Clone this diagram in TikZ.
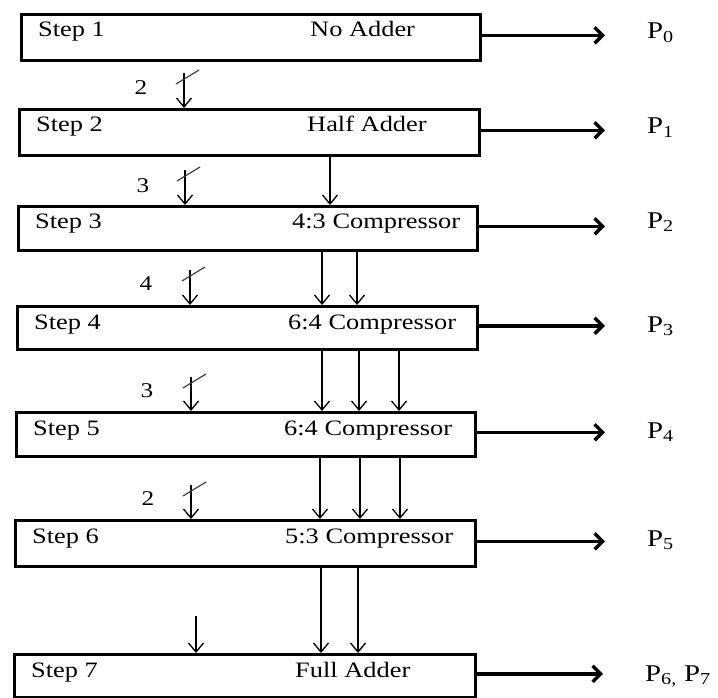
\documentclass[tikz,border=0pt]{standalone}
\usepackage{fontspec}
\setmainfont{Liberation Serif}[FakeStretch=1.2]
\usetikzlibrary{arrows.meta}

\begin{document}
\begin{tikzpicture}[x=1pt,y=-1pt,
  stagebox/.style={draw, line width=2.6pt, inner sep=0pt, anchor=north west},
  steptext/.style={anchor=base west, inner sep=0pt, font=\fontsize{22}{26}\selectfont},
  unittext/.style={anchor=base west, inner sep=0pt, font=\fontsize{22}{26}\selectfont},
  bustext/.style={inner sep=0pt, font=\fontsize{21}{25}\selectfont},
  prodtext/.style={anchor=base west, inner sep=0pt, font=\fontsize{24}{28}\selectfont},
  outarrow/.style={line width=3.4pt, -{Straight Barb[length=8pt,width=16pt]}, shorten >=42pt},
  feedarrow/.style={line width=1.3pt, -{Straight Barb[length=9pt,width=15pt]}},
  busslash/.style={line width=1.2pt, draw=black!75}]

\useasboundingbox (0,0) rectangle (718,698);

% stage boxes
\node[stagebox, minimum width=459pt, minimum height=46pt] (b1) at (20,13) {};
\node[stagebox, minimum width=460pt, minimum height=46pt] (b2) at (18,108) {};
\node[stagebox, minimum width=459pt, minimum height=44pt] (b3) at (17,205) {};
\node[stagebox, minimum width=460pt, minimum height=43pt] (b4) at (16,305) {};
\node[stagebox, minimum width=459pt, minimum height=44pt] (b5) at (15,411) {};
\node[stagebox, minimum width=460pt, minimum height=46pt] (b6) at (14,519) {};
\node[stagebox, minimum width=461pt, minimum height=43pt] (b7) at (13,653) {};

% step names
\node[steptext] (s1) at (38,37) {Step 1};
\node[steptext] (s2) at (36,132) {Step 2};
\node[steptext] (s3) at (35,229) {Step 3};
\node[steptext] (s4) at (34,329) {Step 4};
\node[steptext] (s5) at (33,435) {Step 5};
\node[steptext] (s6) at (32,543) {Step 6};
\node[steptext] (s7) at (31,677) {Step 7};

% adder type in each step
\node[unittext] (u1) at (310,37) {No Adder};
\node[unittext] (u2) at (307,132) {Half Adder};
\node[unittext] (u3) at (292,229) {4:3 Compressor};
\node[unittext] (u4) at (288,329) {6:4 Compressor};
\node[unittext] (u5) at (284,435) {6:4 Compressor};
\node[unittext] (u6) at (285,543) {5:3 Compressor};
\node[unittext] (u7) at (295,677) {Full Adder};

% product bits
\node[prodtext] (p0) at (647,39) {P\textsubscript{0}};
\node[prodtext] (p1) at (647,134) {P\textsubscript{1}};
\node[prodtext] (p2) at (647,228) {P\textsubscript{2}};
\node[prodtext] (p3) at (647,332) {P\textsubscript{3}};
\node[prodtext] (p4) at (647,438) {P\textsubscript{4}};
\node[prodtext] (p5) at (647,546) {P\textsubscript{5}};
\node[prodtext] (p67) at (645,681) {P\textsubscript{6,} P\textsubscript{7}};

\foreach \b/\p in {b1/p0, b2/p1, b3/p2, b4/p3, b5/p4, b6/p5, b7/p67}
  \draw[outarrow] ([yshift=2pt]\b.east) -- ([yshift=2pt]\b.east -| \p.west);

% partial-product bus inputs with bit counts
\coordinate (in1) at (184,73);
\coordinate (in2) at (185,170);
\coordinate (in3) at (190,270);
\coordinate (in4) at (191,377);
\coordinate (in5) at (191,485);
\coordinate (in6) at (196,616);

\foreach \i/\b in {1/b2, 2/b3, 3/b4, 4/b5, 5/b6} {
  \draw[feedarrow] (in\i) -- (in\i |- \b.north);
  \draw[busslash] ([shift={(-8,11)}]in\i) -- ([shift={(15,-3)}]in\i);
}
\draw[feedarrow] (in6) -- (in6 |- b7.north);

\node[bustext] (n1) at (141,88) {2};
\node[bustext] (n2) at (143,186) {3};
\node[bustext] (n3) at (146,284) {4};
\node[bustext] (n4) at (147,391) {3};
\node[bustext] (n5) at (148,499) {2};

% carries passed down between steps
\coordinate (k21) at (330,0);
\draw[feedarrow] (k21 |- b2.south) -- (k21 |- b3.north);

\foreach \x [count=\j] in {322,357} {
  \coordinate (k3\j) at (\x,0);
  \draw[feedarrow] (k3\j |- b3.south) -- (k3\j |- b4.north);
}
\foreach \x [count=\j] in {322,359,399} {
  \coordinate (k4\j) at (\x,0);
  \draw[feedarrow] (k4\j |- b4.south) -- (k4\j |- b5.north);
}
\foreach \x [count=\j] in {320,360,400} {
  \coordinate (k5\j) at (\x,0);
  \draw[feedarrow] (k5\j |- b5.south) -- (k5\j |- b6.north);
}
\foreach \x [count=\j] in {321,358} {
  \coordinate (k6\j) at (\x,0);
  \draw[feedarrow] (k6\j |- b6.south) -- (k6\j |- b7.north);
}
\end{tikzpicture}
\end{document}
